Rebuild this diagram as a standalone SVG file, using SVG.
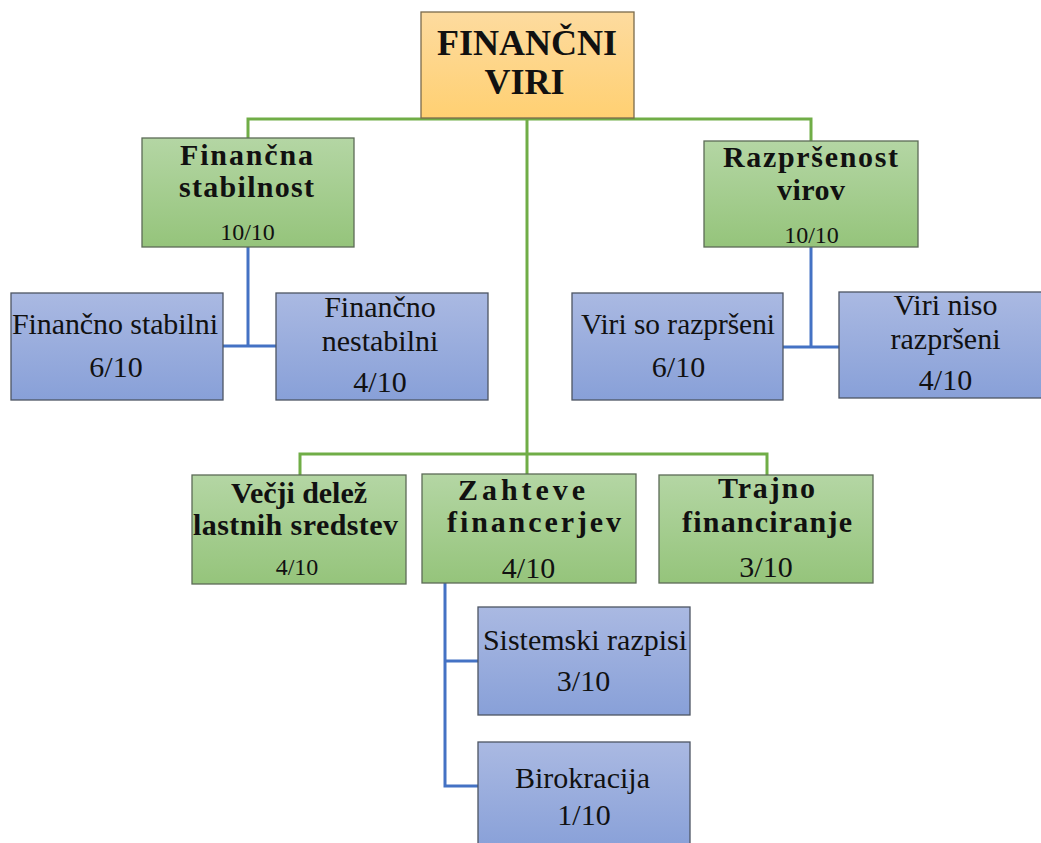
<svg xmlns="http://www.w3.org/2000/svg" width="1041" height="843" viewBox="0 0 1041 843">
  <defs>
    <linearGradient id="gOrange" x1="0" y1="0" x2="0" y2="1">
      <stop offset="0" stop-color="#fddb9f"/>
      <stop offset="1" stop-color="#ffd072"/>
    </linearGradient>
    <linearGradient id="gGreen" x1="0" y1="0" x2="0" y2="1">
      <stop offset="0" stop-color="#b4d6a4"/>
      <stop offset="1" stop-color="#95c47b"/>
    </linearGradient>
    <linearGradient id="gBlue" x1="0" y1="0" x2="0" y2="1">
      <stop offset="0" stop-color="#aab9e2"/>
      <stop offset="1" stop-color="#88a0d8"/>
    </linearGradient>
  </defs>
  <style>
    .root { fill: url(#gOrange); stroke: #7a6a4c; stroke-width: 1.3; }
    .grn { fill: url(#gGreen); stroke: #5c6b57; stroke-width: 1.3; }
    .blu { fill: url(#gBlue); stroke: #4d5563; stroke-width: 1.3; }
    .lg { fill: none; stroke: #70ad47; stroke-width: 3; }
    .lb { fill: none; stroke: #4472c4; stroke-width: 3; }
    text { font-family: "Liberation Serif", "Times New Roman", serif; fill: #111; text-anchor: middle; }
    .b { font-weight: bold; font-size: 30px; }
    .r { font-size: 30px; }
    .s { font-size: 24px; }
  </style>

  <g id="connectors">
    <path class="lg" d="M248,141 V119 H811 V141"/>
    <path class="lg" d="M527,118 V475"/>
    <path class="lg" d="M300,476 V454 H767 V476"/>
    <path class="lb" d="M248,247 V346 M223,346 H276"/>
    <path class="lb" d="M811,247 V347 M783,347 H839"/>
    <path class="lb" d="M445,583 V786 H478 M445,661 H478"/>
  </g>

  <g id="financni-viri">
    <rect class="root" x="421" y="12" width="213" height="106"/>
    <text class="b" x="527" y="55" font-size="36" style="font-size:36px" textLength="180" lengthAdjust="spacing">FINANČNI</text>
    <text class="b" x="524.5" y="94" style="font-size:36px">VIRI</text>
  </g>

  <g id="financna-stabilnost">
    <rect class="grn" x="142" y="138" width="212" height="109"/>
    <text class="b" x="246.5" y="165" textLength="133" lengthAdjust="spacing">Finančna</text>
    <text class="b" x="246.5" y="197" textLength="135" lengthAdjust="spacing">stabilnost</text>
    <text class="s" x="247.5" y="240">10/10</text>
  </g>

  <g id="razprsenost-virov">
    <rect class="grn" x="704" y="141" width="214" height="106"/>
    <text class="b" x="810.5" y="167" textLength="175" lengthAdjust="spacing">Razpršenost</text>
    <text class="b" x="811" y="200" textLength="68" lengthAdjust="spacing">virov</text>
    <text class="s" x="811.5" y="243">10/10</text>
  </g>

  <g id="financno-stabilni">
    <rect class="blu" x="11" y="293" width="212" height="107"/>
    <text class="r" x="115" y="334" textLength="206" lengthAdjust="spacing">Finančno stabilni</text>
    <text class="r" x="116" y="377">6/10</text>
  </g>

  <g id="financno-nestabilni">
    <rect class="blu" x="276" y="293" width="212" height="107"/>
    <text class="r" x="380" y="317">Finančno</text>
    <text class="r" x="380" y="351">nestabilni</text>
    <text class="r" x="380" y="392">4/10</text>
  </g>

  <g id="viri-so-razprseni">
    <rect class="blu" x="572" y="293" width="211" height="107"/>
    <text class="r" x="678" y="334" textLength="194" lengthAdjust="spacingAndGlyphs">Viri so razpršeni</text>
    <text class="r" x="678.5" y="377">6/10</text>
  </g>

  <g id="viri-niso-razprseni">
    <rect class="blu" x="839" y="292" width="203" height="106"/>
    <text class="r" x="945.5" y="315">Viri niso</text>
    <text class="r" x="945.5" y="349">razpršeni</text>
    <text class="r" x="945.5" y="390">4/10</text>
  </g>

  <g id="vecji-delez">
    <rect class="grn" x="192" y="475" width="214" height="109"/>
    <text class="b" x="299" y="503" textLength="136" lengthAdjust="spacing">Večji delež</text>
    <text class="b" x="295.5" y="535" textLength="205" lengthAdjust="spacing">lastnih  sredstev</text>
    <text class="s" x="297" y="575">4/10</text>
  </g>

  <g id="zahteve-financerjev">
    <rect class="grn" x="422" y="474" width="214" height="109"/>
    <text class="b" x="521.5" y="500" textLength="127" lengthAdjust="spacing">Zahteve</text>
    <text class="b" x="534" y="532" textLength="174" lengthAdjust="spacing">financerjev</text>
    <text class="r" x="528.5" y="578">4/10</text>
  </g>

  <g id="trajno-financiranje">
    <rect class="grn" x="659" y="475" width="214" height="108"/>
    <text class="b" x="766.5" y="498" textLength="97" lengthAdjust="spacing">Trajno</text>
    <text class="b" x="767" y="532" textLength="170" lengthAdjust="spacing">financiranje</text>
    <text class="r" x="766" y="577">3/10</text>
  </g>

  <g id="sistemski-razpisi">
    <rect class="blu" x="478" y="607" width="212" height="108"/>
    <text class="r" x="585" y="650">Sistemski razpisi</text>
    <text class="r" x="583.5" y="691">3/10</text>
  </g>

  <g id="birokracija">
    <rect class="blu" x="478" y="742" width="212" height="108"/>
    <text class="r" x="582.5" y="788">Birokracija</text>
    <text class="r" x="584" y="825">1/10</text>
  </g>
</svg>
